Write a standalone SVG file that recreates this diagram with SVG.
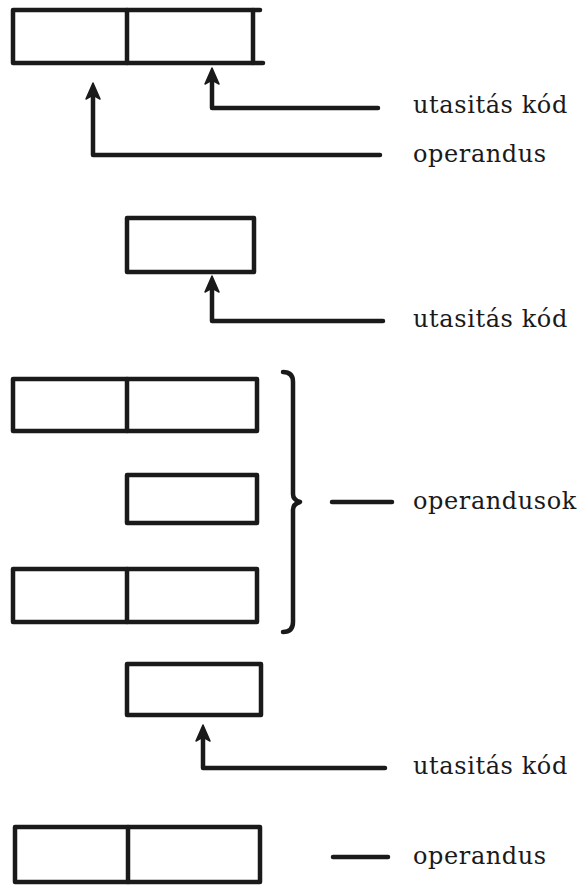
<svg xmlns="http://www.w3.org/2000/svg" width="581" height="886" viewBox="0 0 581 886">
<defs>
<style>
.bx{fill:none;stroke:#1a1a1a;stroke-width:4.5;stroke-linecap:round;stroke-linejoin:round}
.ln{fill:none;stroke:#1a1a1a;stroke-width:4.5;stroke-linecap:round;stroke-linejoin:round}
.ah{fill:#1a1a1a;stroke:#1a1a1a;stroke-width:1.5;stroke-linejoin:round}
.t{font-size:24px;letter-spacing:0.6px;fill:#1a1a1a}
</style>
</defs>
<rect width="581" height="886" fill="#ffffff"/>
<g id="word1">
<rect class="bx" x="13" y="10" width="240" height="53"/>
<line class="bx" x1="127" y1="10" x2="127" y2="63"/>
<line class="bx" x1="253" y1="10" x2="260" y2="10"/>
<line class="bx" x1="253" y1="63" x2="263" y2="63"/>
</g>
<g id="word2">
<rect class="bx" x="127" y="218" width="127" height="54"/>
</g>
<g id="word3">
<rect class="bx" x="13" y="379" width="244" height="52"/>
<line class="bx" x1="127" y1="379" x2="127" y2="431"/>
</g>
<g id="word4">
<rect class="bx" x="127" y="475" width="130" height="48"/>
</g>
<g id="word5">
<rect class="bx" x="13" y="569" width="244" height="53"/>
<line class="bx" x1="127" y1="569" x2="127" y2="622"/>
</g>
<g id="word6">
<rect class="bx" x="127" y="664" width="134" height="51"/>
</g>
<g id="word7">
<rect class="bx" x="15" y="827" width="245" height="55"/>
<line class="bx" x1="128" y1="827" x2="128" y2="882"/>
</g>
<g id="brace">
<path class="ln" d="M283,372 Q293,372 293,382 L293,494 Q293,500 300,502 Q293,504 293,510 L293,622 Q293,632 283,632"/>
</g>
<g id="connectors">
<path class="ln" d="M378,108 L212,108 L212,76"/>
<path class="ah" d="M212,68 L219,84 L212,80 L205,84 Z"/>
<path class="ln" d="M380,155 L93,155 L93,91"/>
<path class="ah" d="M93,83 L100,99 L93,95 L86,99 Z"/>
<path class="ln" d="M383,321 L212,321 L212,284"/>
<path class="ah" d="M212,276 L219,292 L212,288 L205,292 Z"/>
<path class="ln" d="M385,768 L203,768 L203,733"/>
<path class="ah" d="M203,725 L210,741 L203,737 L196,741 Z"/>
<line class="ln" x1="332" y1="502" x2="392" y2="502"/>
<line class="ln" x1="333" y1="857" x2="388" y2="857"/>
</g>
<g id="labels" font-family="DejaVu Serif, Liberation Serif, serif">
<text class="t" x="413" y="113">utasitás kód</text>
<text class="t" x="413" y="162">operandus</text>
<text class="t" x="413" y="327">utasitás kód</text>
<text class="t" x="413" y="509">operandusok</text>
<text class="t" x="413" y="774">utasitás kód</text>
<text class="t" x="413" y="864">operandus</text>
</g>
</svg>
